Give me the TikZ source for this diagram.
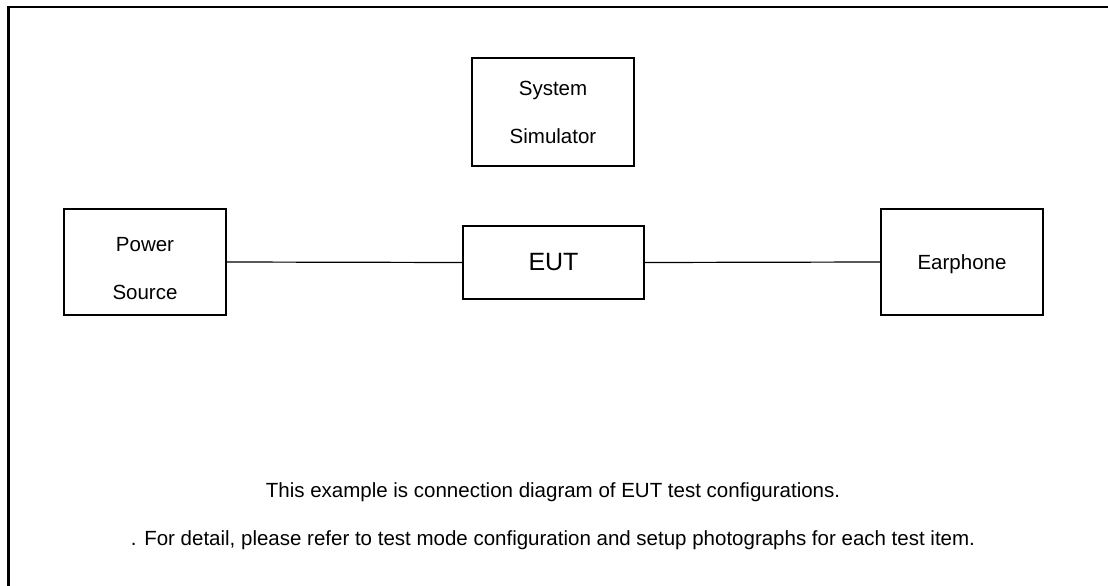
\documentclass[tikz,border=0pt]{standalone}
\usepackage{fontspec}
\setmainfont{Liberation Sans}
\usetikzlibrary{positioning}
\tikzset{
    block/.style={draw, line width=1.2pt, minimum width=162pt, minimum height=106pt,
        inner sep=0pt, align=center, font=\fontsize{20.5}{48}\selectfont},
    wire/.style={line width=1.2pt},
    frame/.style={line width=2.6pt}
}

\begin{document}
\begin{tikzpicture}[x=1pt, y=-1pt]
    \useasboundingbox (0,0) rectangle (1108,586);
    \draw[frame] (8.5,586) -- (8.5,7) -- (1108,7);
    \node[block, minimum height=108pt] at (553,112) (sim) {System\\Simulator};
    \node[block, text height=76pt] at (145,262) (power) {Power\\Source};
    \node[block, minimum width=181pt, minimum height=73pt, font=\fontsize{25}{30}\selectfont] at (553.5,262.5) (eut) {EUT};
    \node[block, text height=20pt] at (962,262) (phone) {Earphone};
    \path[wire]
    (power.east) edge (eut.west)
    (eut.east) edge (phone.west)
    ;
    \node[align=center, anchor=base, inner sep=0pt, font=\fontsize{20.5}{48}\selectfont] at (553,545) (note) {This example is connection diagram of EUT test configurations.\\. For detail, please refer to test mode configuration and setup photographs for each test item.};
\end{tikzpicture}
\end{document}
